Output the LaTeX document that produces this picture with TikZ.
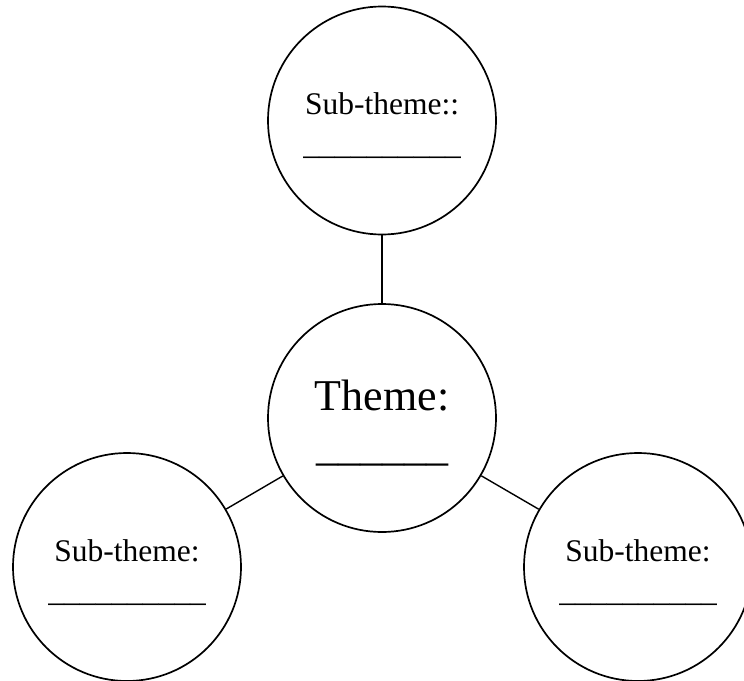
\documentclass[tikz,border=0pt]{standalone}
\usepackage{fontspec}
\setmainfont{Liberation Serif}
\begin{document}
\begin{tikzpicture}[x=1pt, y=-1pt,
		bubble/.style={draw, circle, line width=1.7pt, minimum size=228pt, inner sep=0pt, align=center},
		subfont/.style={font=\fontsize{31.5}{40}\selectfont},
		mainfont/.style={font=\fontsize{44}{50}\selectfont},
		link/.style={line width=1.4pt}]
		\useasboundingbox (0, 0) rectangle (744, 680);
		\node [bubble, subfont] (subtop) at (382, 120.5) {\rule{0pt}{33pt}Sub-theme::\\\_\_\_\_\_\_\_\_\_\_};
		\node [bubble, mainfont] (theme) at (382, 418) {\rule{0pt}{41pt}Theme:\\\_\_\_\_\_\_};
		\node [bubble, subfont] (subleft) at (127, 567) {\rule{0pt}{33pt}Sub-theme:\\\_\_\_\_\_\_\_\_\_\_};
		\node [bubble, subfont] (subright) at (638, 567) {\rule{0pt}{33pt}Sub-theme:\\\_\_\_\_\_\_\_\_\_\_};
		\draw [link] (subtop) -- (theme);
		\draw [link] (theme) -- (subleft);
		\draw [link] (theme) -- (subright);
	\end{tikzpicture}
\end{document}
